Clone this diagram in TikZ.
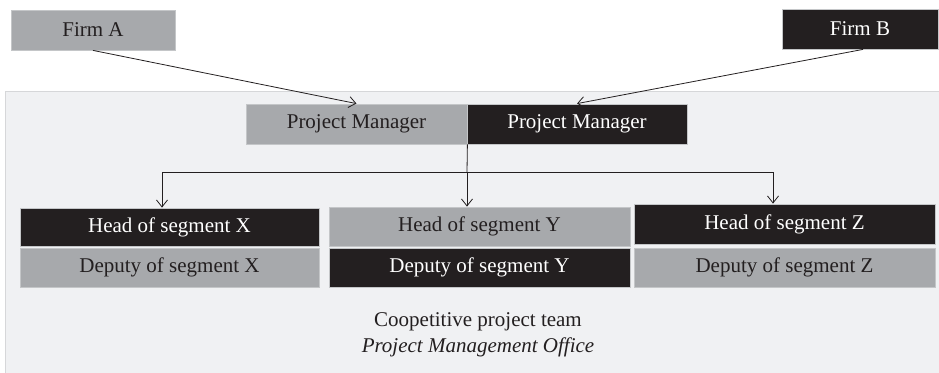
\documentclass[tikz,border=0pt]{standalone}
\usepackage{fontspec}
\setmainfont{Liberation Serif}
\usetikzlibrary{arrows.meta}
\definecolor{boxgray}{HTML}{A7A9AC}
\definecolor{boxdark}{HTML}{231F20}
\definecolor{panelfill}{HTML}{F0F1F3}
\definecolor{panelline}{HTML}{D6D7D9}
\definecolor{edgegray}{HTML}{C4C6C8}
\begin{document}
\begin{tikzpicture}[x=1pt,y=-1pt,
  every node/.style={font=\fontsize{21}{26}\selectfont, inner sep=0pt},
  graybox/.style={rectangle, fill=boxgray, draw=edgegray, line width=0.8pt, text=boxdark},
  darkbox/.style={rectangle, fill=boxdark, draw=edgegray, line width=0.8pt, text=white},
  link/.style={draw=boxdark, line width=0.8pt},
  arr/.style={link, -{Straight Barb[length=7pt,width=11pt]}}]
  \useasboundingbox (0,0) rectangle (939,372);
  % project team panel
  \fill[panelfill, draw=panelline, line width=1pt] (5,91) rectangle (950,385);
  % firms
  \node[graybox, minimum width=164pt, minimum height=40pt] (firmA) at (93,30) {Firm A};
  \node[darkbox, minimum width=156pt, minimum height=40pt] (firmB) at (860,29) {Firm B};
  % project managers
  \node[graybox, minimum width=221pt, minimum height=40pt] (pmA) at (356.5,124) {Project Manager};
  \node[darkbox, minimum width=220pt, minimum height=40pt] (pmB) at (577,124) {Project Manager};
  % segments
  \node[darkbox, minimum width=299pt, minimum height=38pt] (hX) at (169.5,227) {Head of segment X};
  \node[graybox, minimum width=299pt, minimum height=39pt] (dX) at (169.5,267.5) {Deputy of segment X};
  \node[graybox, minimum width=301pt, minimum height=39pt] (hY) at (479.5,226.5) {Head of segment Y};
  \node[darkbox, minimum width=301pt, minimum height=39pt] (dY) at (479.5,267.5) {Deputy of segment Y};
  \node[darkbox, minimum width=301pt, minimum height=40pt] (hZ) at (784.5,224) {Head of segment Z};
  \node[graybox, minimum width=301pt, minimum height=39pt] (dZ) at (784.5,267.5) {Deputy of segment Z};
  % caption
  \node[align=center, text=boxdark] (team) at (478,335) {Coopetitive project team\\ \textit{Project Management Office}};
  % firm links
  \draw[arr] (firmA.south) -- (pmA.north);
  \draw[arr] ([xshift=3pt]firmB.south) -- (pmB.north);
  % distribution to segments
  \coordinate (split) at (467,172);
  \coordinate (splitL) at (162,172);
  \coordinate (splitR) at (773,172);
  \draw[link] (pmA.south east) -- (split);
  \draw[link] (splitL) -- (splitR);
  \draw[arr] (splitL) -- (splitL |- hX.north);
  \draw[arr] (split) -- (split |- hY.north);
  \draw[arr] (splitR) -- (splitR |- hZ.north);
\end{tikzpicture}
\end{document}
